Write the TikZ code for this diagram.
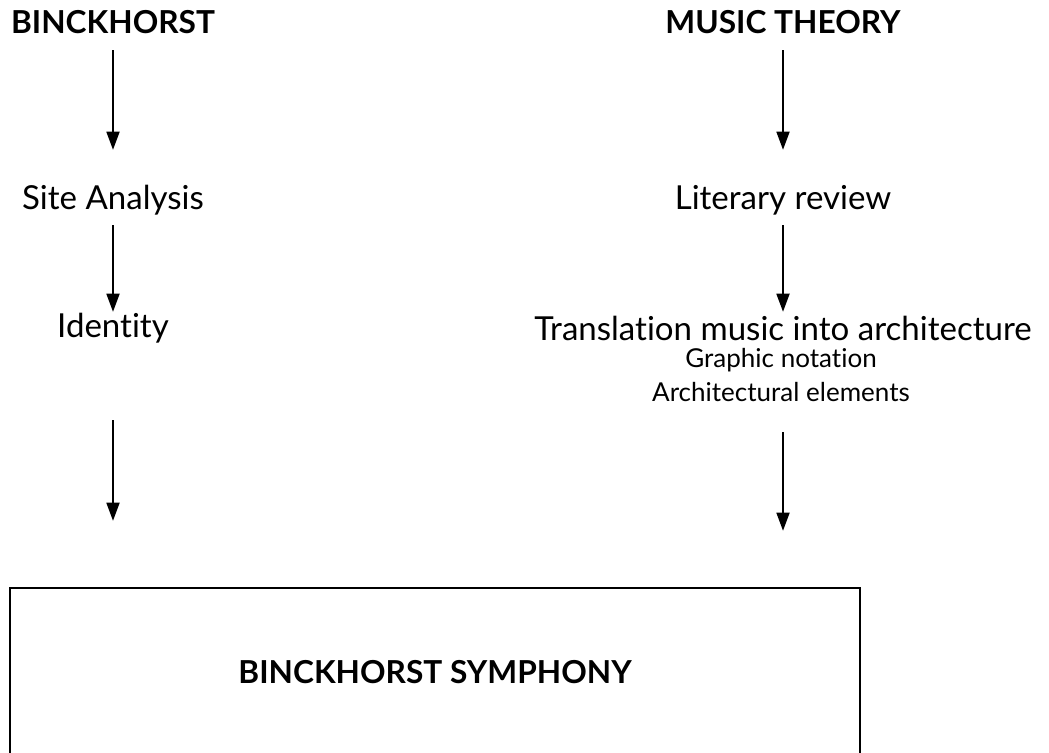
\documentclass[tikz,border=0pt]{standalone}
\usepackage{fontspec}
\setmainfont[Ligatures={NoCommon,NoRare,NoDiscretionary}]{Lato}
\usetikzlibrary{arrows.meta}

\tikzset{
  head/.style={font=\fontsize{22.5}{26}\selectfont\bfseries, inner sep=0pt},
  item/.style={font=\fontsize{23.5}{28}\selectfont, inner sep=0pt},
  sub/.style={font=\fontsize{18.5}{22}\selectfont, inner sep=0pt},
  flow/.style={-{Triangle[width=9pt,length=13pt]}, line width=2pt},
}

\begin{document}
\begin{tikzpicture}[x=0.025cm, y=-0.025cm]
    \useasboundingbox (0,0) rectangle (1049,753);
    \clip (0,0) rectangle (1049,753);
    % left column
    \node[head] (binck) at (113,22) {BINCKHORST};
    \node[item] (site) at (113,200) {Site Analysis};
    \node[item] (ident) at (113,328) {Identity};
    % right column
    \node[head] (music) at (783,22) {MUSIC THEORY};
    \node[item] (lit) at (783,200) {Literary review};
    \node[item] (trans) at (783,328) {Translation music into architecture};
    \node[sub] (graph) at (781,360) {Graphic notation};
    \node[sub] (elem) at (781,392) {Architectural elements};
    % result
    \node[head, draw, line width=1.4pt, minimum width=21.25cm, minimum height=4.2cm] (box) at (435,672) {BINCKHORST SYMPHONY};
    % arrows
    \draw[flow, shorten <=0.7cm, shorten >=1.25cm] (binck.center) -- (site.center);
    \draw[flow, shorten <=0.625cm, shorten >=0.4cm] (site.center) -- (ident.center);
    \draw[flow, shorten <=2.3cm, shorten >=1.65cm] (ident.center) -- (ident.center |- box.north);
    \draw[flow, shorten <=0.7cm, shorten >=1.25cm] (music.center) -- (lit.center);
    \draw[flow, shorten <=0.625cm, shorten >=0.4cm] (lit.center) -- (trans.center);
    \draw[flow, shorten <=1cm, shorten >=1.4cm] (trans.center |- elem.center) -- (trans.center |- box.north);
\end{tikzpicture}
\end{document}
